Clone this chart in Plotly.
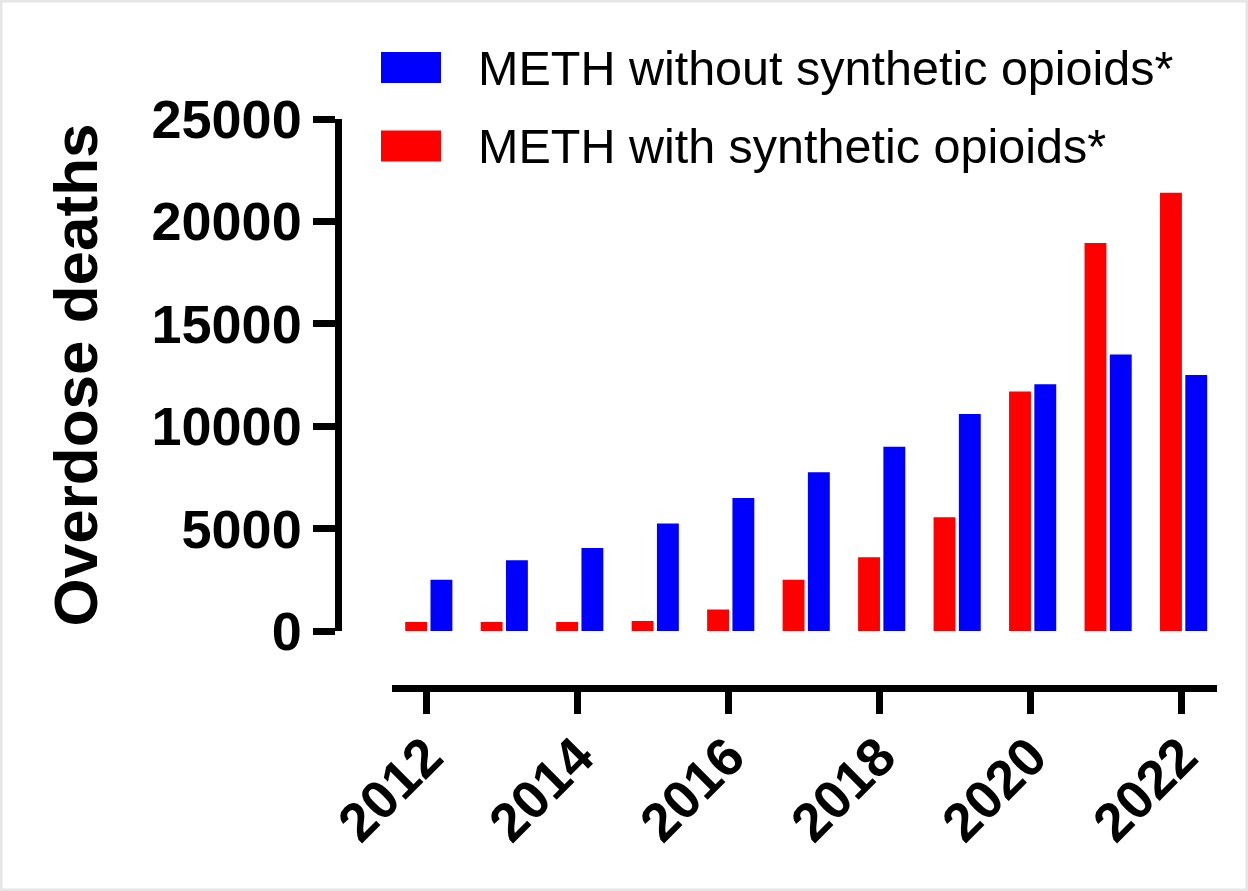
import plotly.graph_objects as go

# ---- data -------------------------------------------------------------
years = [2012, 2013, 2014, 2015, 2016, 2017, 2018, 2019, 2020, 2021, 2022]
meth_without_opioids = [2500, 3450, 4050, 5250, 6500, 7750, 9000, 10600, 12050, 13500, 12500]
meth_with_opioids = [440, 440, 440, 490, 1050, 2500, 3600, 5550, 11700, 18950, 21400]

series_names = ["METH without synthetic opioids*", "METH with synthetic opioids*"]
series_colors = ["#0000ff", "#ff0000"]

y_ticks = [0, 5000, 10000, 15000, 20000, 25000]
y_tick_labels = ["0", "5000", "10000", "15000", "20000", "25000"]
x_ticks = [2012, 2014, 2016, 2018, 2020, 2022]
x_tick_labels = ["2012", "2014", "2016", "2018", "2020", "2022"]
y_title = "Overdose deaths"

# ---- canvas geometry (pixels) ------------------------------------------
W, H = 1248, 891
ML, MR, MT, MB = 300, 31, 119, 191
PW = W - ML - MR
PH = H - MT - MB


def fx(px):
    """pixel x -> paper x"""
    return (px - ML) / PW


def fy(py):
    """pixel y (from top) -> paper y"""
    return (H - MB - py) / PH


FONT = "Arial, Liberation Sans, sans-serif"

fig = go.Figure()

# red bars sit left of the year tick, blue bars right of it
fig.add_bar(
    x=years, y=meth_with_opioids, name=series_names[1],
    marker=dict(color=series_colors[1], line=dict(width=0)),
    width=0.29, offset=-0.285, showlegend=False,
)
fig.add_bar(
    x=years, y=meth_without_opioids, name=series_names[0],
    marker=dict(color=series_colors[0], line=dict(width=0)),
    width=0.29, offset=0.05, showlegend=False,
)

axis_common = dict(
    showgrid=False, zeroline=False,
    showline=True, linecolor="black", linewidth=7,
    ticks="outside", ticklen=22, tickwidth=7, tickcolor="black",
    anchor="free",
)

fig.update_layout(
    width=W, height=H,
    margin=dict(l=ML, r=MR, t=MT, b=MB, autoexpand=False),
    paper_bgcolor="white", plot_bgcolor="white",
    barmode="overlay",
    xaxis=dict(
        axis_common,
        domain=[fx(392), 1],
        range=[2011.54, 2022.47],
        position=fy(688),
        tickmode="array", tickvals=x_ticks, ticktext=x_tick_labels,
        tickangle=-45,
        ticklabelstandoff=-11,
        tickfont=dict(family=FONT, size=54, color="black", weight="bold"),
    ),
    yaxis=dict(
        axis_common,
        domain=[fy(631), 1],
        range=[0, 25000],
        position=fx(337.5),
        tickmode="array", tickvals=y_ticks, ticktext=y_tick_labels,
        tickfont=dict(family=FONT, size=54, color="black", weight="bold"),
        title=dict(
            text=y_title, standoff=32,
            font=dict(family=FONT, size=62, color="black", weight="bold"),
        ),
    ),
)

# legend drawn as swatches + labels
shapes = []
annotations = []
for i, (name, color) in enumerate(zip(series_names, series_colors)):
    cy = 67.5 + i * 78.5
    shapes.append(dict(
        type="rect", xref="paper", yref="paper",
        x0=fx(381), x1=fx(441), y0=fy(cy + 15.5), y1=fy(cy - 15.5),
        fillcolor=color, line=dict(width=0),
    ))
    annotations.append(dict(
        xref="paper", yref="paper", x=fx(476), y=fy(cy),
        xanchor="left", yanchor="middle", showarrow=False,
        text=name, font=dict(family=FONT, size=48.5, color="black"),
    ))

# thin light frame around the whole figure
shapes.append(dict(
    type="rect", xref="paper", yref="paper",
    x0=fx(1), x1=fx(W - 1), y0=fy(H - 1), y1=fy(1),
    line=dict(color="#e6e6e6", width=3), fillcolor="rgba(0,0,0,0)",
    layer="below",
))

fig.update_layout(shapes=shapes, annotations=annotations)

fig.write_html("out.html")
